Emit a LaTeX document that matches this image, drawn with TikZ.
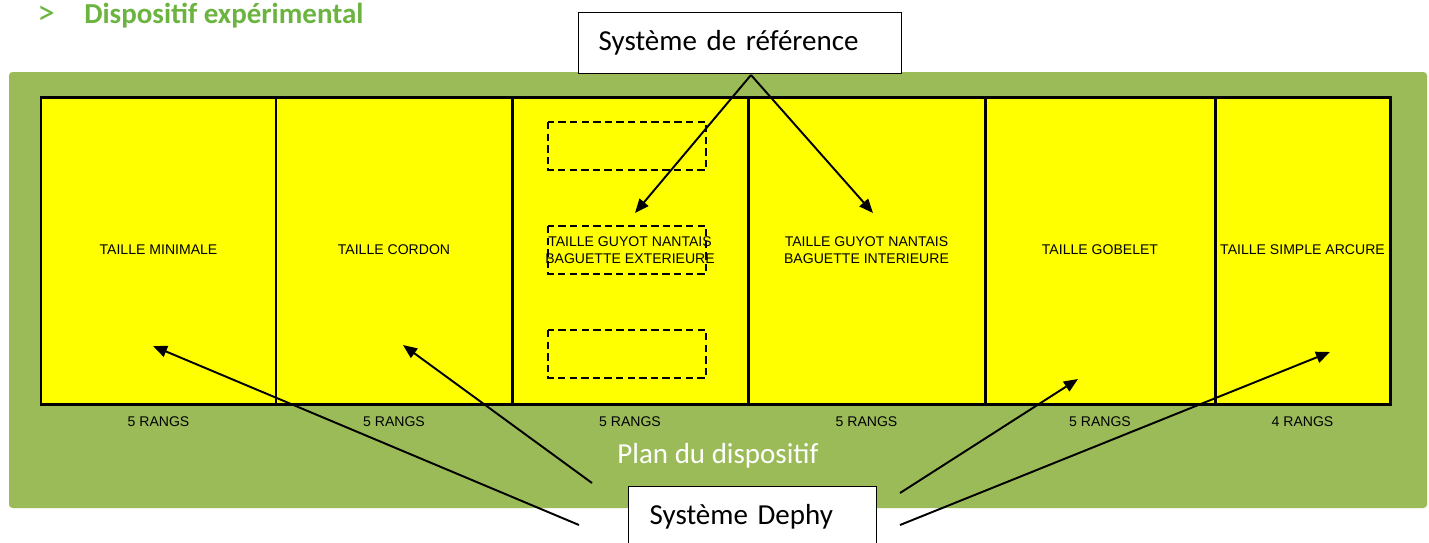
\documentclass[tikz,border=0pt]{standalone}
\usepackage{fontspec}
\setmainfont{Carlito}
\newfontfamily\arialfont{Liberation Sans}
\usetikzlibrary{arrows.meta}
\definecolor{plangreen}{RGB}{155,187,89}
\definecolor{titlegreen}{RGB}{108,180,64}
\definecolor{rangyellow}{RGB}{255,255,0}
\tikzset{
  rangcell/.style={draw=black,line width=1.7pt,fill=rangyellow},
  trialbox/.style={draw=black,line width=1.1pt,dash pattern=on 4.2pt off 2.4pt},
  celltext/.style={font=\arialfont\fontsize{8}{9.8}\selectfont,align=center},
  sysbox/.style={draw=black,line width=0.8pt,fill=white,anchor=north west,align=left,
    font=\fontsize{16.5}{20}\selectfont,inner ysep=0pt,minimum height=1.22cm},
  pointer/.style={draw=black,line width=1.1pt,-{Triangle[length=8pt,width=6.5pt]}}
}
\begin{document}
\begin{tikzpicture}[x=0.02cm,y=-0.02cm]
\tikzstyle{every node}+=[inner sep=0pt]
\useasboundingbox (0,0) rectangle (1429,542);
% title
\node[anchor=base west,text=titlegreen,font=\fontsize{20}{24}\selectfont] (bullet) at (37,24) {>};
\node[anchor=base west,text=titlegreen,font=\bfseries\fontsize{16.5}{20}\selectfont] (title) at (84,23) {Dispositif expérimental};
% plan
\fill[plangreen,rounded corners=2pt] (9,72) rectangle (1427,508);
\foreach \xa/\xb in {41/276,276/512,512/748,748/985,985/1215,1215/1390}
  \draw[rangcell] (\xa,97) rectangle (\xb,404);
\draw[trialbox] (548,122) rectangle (706,170);
\draw[trialbox] (548,226) rectangle (706,274);
\draw[trialbox] (548,330) rectangle (706,378);
\foreach \xa/\xb/\lab/\nb [count=\i] in {41/276/{TAILLE MINIMALE}/5,
    276/512/{TAILLE CORDON}/5,
    512/748/{TAILLE GUYOT NANTAIS\\BAGUETTE EXTERIEURE}/5,
    748/985/{TAILLE GUYOT NANTAIS\\BAGUETTE INTERIEURE}/5,
    985/1215/{TAILLE GOBELET}/5,
    1215/1390/{TAILLE SIMPLE ARCURE}/4}{
  \node[celltext] (cell\i) at ({(\xa+\xb)/2},250) {\lab};
  \node[celltext,anchor=base] (rang\i) at ({(\xa+\xb)/2},426) {\nb\ RANGS};
}
\node[anchor=base,text=white,font=\fontsize{16.5}{20}\selectfont] (plan) at (718,463) {Plan du dispositif};
% systemes
\node[sysbox,text width=5.66cm,inner xsep=0.4cm] (ref) at (578,12) {Système de référence};
\node[sysbox,text width=4.12cm,inner xsep=0.42cm] (dephy) at (628,486) {Système Dephy};
\coordinate (refsrc) at (751,75);
\coordinate (tipext) at (635,213);
\coordinate (tipint) at (873,213);
\coordinate (dephyL1) at (579,525);
\coordinate (dephyL2) at (592,483);
\coordinate (dephyR1) at (900,493);
\coordinate (dephyR2) at (900,525);
\coordinate (tipmin) at (153,346);
\coordinate (tipcor) at (403,345);
\coordinate (tipgob) at (1078,379);
\coordinate (tiparc) at (1330,352);
\draw[pointer] (refsrc) -- (tipext);
\draw[pointer] (refsrc) -- (tipint);
\draw[pointer] (dephyL1) -- (tipmin);
\draw[pointer] (dephyL2) -- (tipcor);
\draw[pointer] (dephyR1) -- (tipgob);
\draw[pointer] (dephyR2) -- (tiparc);
\end{tikzpicture}
\end{document}
